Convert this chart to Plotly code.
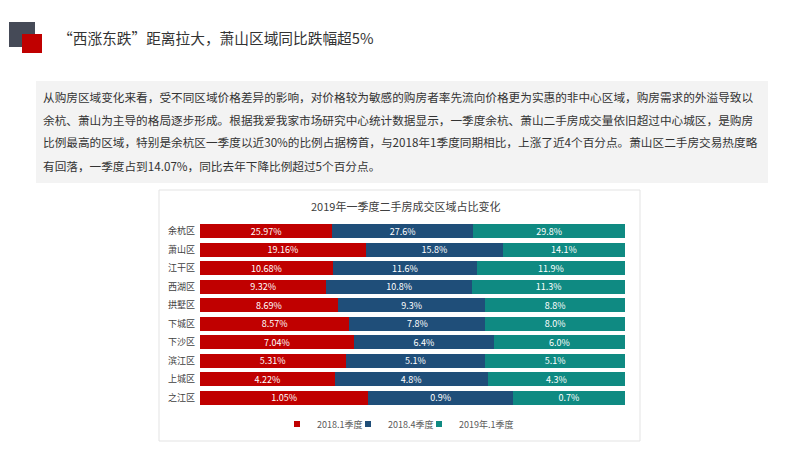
import plotly.graph_objects as go

districts = ["余杭区", "萧山区", "江干区", "西湖区", "拱墅区", "下城区", "下沙区", "滨江区", "上城区", "之江区"]
q2018_1 = [25.97, 19.16, 10.68, 9.32, 8.69, 8.57, 7.04, 5.31, 4.22, 1.05]
q2018_4 = [27.6, 15.8, 11.6, 10.8, 9.3, 7.8, 6.4, 5.1, 4.8, 0.9]
q2019_1 = [29.8, 14.1, 11.9, 11.3, 8.8, 8.0, 6.0, 5.1, 4.3, 0.7]
series_names = ["2018.1季度", "2018.4季度", "2019年.1季度"]
series_colors = ["#c00000", "#1f4e79", "#0f8a82"]

slide_title = "“西涨东跌”距离拉大，萧山区域同比跌幅超5%"
paragraph = [
    "从购房区域变化来看，受不同区域价格差异的影响，对价格较为敏感的购房者率先流向价格更为实惠的非中心区域，购房需求的外溢导致以",
    "余杭、萧山为主导的格局逐步形成。根据我爱我家市场研究中心统计数据显示，一季度余杭、萧山二手房成交量依旧超过中心城区，是购房",
    "比例最高的区域，特别是余杭区一季度以近30%的比例占据榜首，与2018年1季度同期相比，上涨了近4个百分点。萧山区二手房交易热度略",
    "有回落，一季度占到14.07%，同比去年下降比例超过5个百分点。",
]
chart_title = "2019年一季度二手房成交区域占比变化"

FONT = "Noto Sans CJK SC"
W, H = 800, 450
OFF = 8  # page body margin offset

def px(x):
    return (x - OFF) / W

def py(y):
    return 1 - (y - OFF) / H

fig = go.Figure()
data = [q2018_1, q2018_4, q2019_1]
fmts = ["{:.2f}%", "{:.1f}%", "{:.1f}%"]
for name, vals, col, fmt in zip(series_names, data, series_colors, fmts):
    fig.add_trace(go.Bar(
        y=districts, x=vals, name=name, orientation="h",
        marker=dict(color=col, line=dict(width=0)),
        text=[fmt.format(v) for v in vals],
        textposition="inside", insidetextanchor="middle",
        textangle=0, constraintext="none",
        textfont=dict(color="white", size=9, family=FONT),
        hoverinfo="skip", showlegend=False,
    ))

# small square legend keys, each in its own legend so they sit close together
legend_ids = ["legend", "legend2", "legend3"]
legend_square_x = [298, 369, 440]
for name, col, lid in zip(series_names, series_colors, legend_ids):
    fig.add_trace(go.Scatter(
        x=[None], y=[None], mode="markers", name=name,
        marker=dict(symbol="square", size=6, color=col),
        hoverinfo="skip", showlegend=True, legend=lid,
    ))

shapes = [
    dict(type="rect", xref="paper", yref="paper", x0=px(159), x1=px(640), y0=py(441), y1=py(190),
         fillcolor="white", line=dict(color="#e3e3e3", width=1), layer="below"),
    dict(type="rect", xref="paper", yref="paper", x0=px(36), x1=px(768), y0=py(183), y1=py(81),
         fillcolor="#f3f3f3", line=dict(width=0), layer="below"),
    dict(type="rect", xref="paper", yref="paper", x0=px(9), x1=px(35), y0=py(47), y1=py(22),
         fillcolor="#454a57", line=dict(width=0), layer="below"),
    dict(type="rect", xref="paper", yref="paper", x0=px(22), x1=px(42), y0=py(53), y1=py(34),
         fillcolor="#c00000", line=dict(width=0), layer="below"),
]

annotations = [
    dict(text=slide_title, xref="paper", yref="paper", x=px(56), y=py(38), xanchor="left", yanchor="middle",
         showarrow=False, font=dict(family=FONT, size=14.7, color="#333333")),
    dict(text=chart_title, xref="paper", yref="paper", x=px(405), y=py(206), xanchor="center", yanchor="middle",
         showarrow=False, font=dict(family=FONT, size=11, color="#404040")),
]
for i, line in enumerate(paragraph):
    annotations.append(dict(text=line, xref="paper", yref="paper", x=px(41), y=py(96 + 23 * i),
                            xanchor="left", yanchor="middle", showarrow=False,
                            font=dict(family=FONT, size=11.65, color="#333333")))

legend_common = dict(orientation="h", xanchor="left", y=py(424), yanchor="middle",
                     font=dict(family=FONT, size=9, color="#595959"),
                     itemwidth=30, bgcolor="rgba(0,0,0,0)")

layout_legends = {}
for lid, sx in zip(legend_ids, legend_square_x):
    layout_legends[lid] = dict(legend_common, x=px(sx - 21))

fig.update_layout(
    width=W, height=H,
    margin=dict(l=0, r=0, t=0, b=0),
    paper_bgcolor="white", plot_bgcolor="rgba(0,0,0,0)",
    barmode="stack", barnorm="percent", bargap=0.24,
    xaxis=dict(domain=[px(200), px(625)], range=[0, 100], visible=False, fixedrange=True),
    yaxis=dict(domain=[py(407), py(222)], autorange="reversed", showgrid=False, zeroline=False,
               showline=False, ticks="", ticksuffix="  ",
               tickfont=dict(family=FONT, size=9, color="#404040")),
    showlegend=True,
    shapes=shapes, annotations=annotations,
    font=dict(family=FONT),
    **layout_legends,
)

fig.write_html("out.html")
